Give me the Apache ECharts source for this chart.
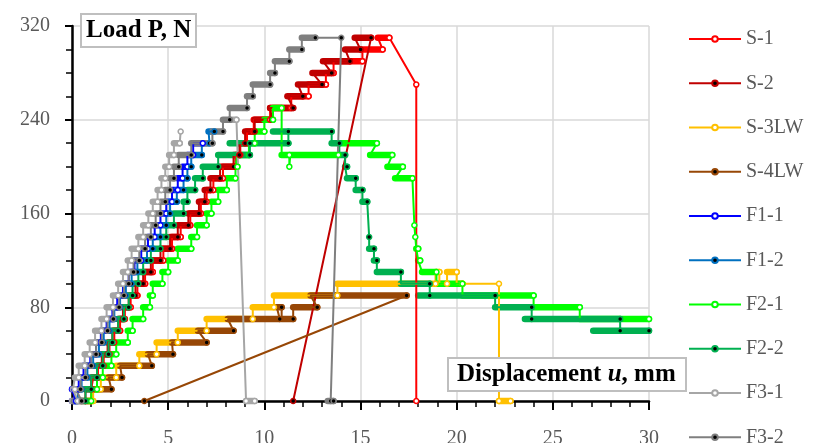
<!DOCTYPE html>
<html>
<head>
<meta charset="utf-8">
<script src="https://cdn.jsdelivr.net/npm/echarts@6/dist/echarts.min.js"></script>
<style>
  html, body { margin: 0; padding: 0; background: #fff; }
  #chart { width: 816px; height: 443px; }
</style>
</head>
<body>
<div id="chart"></div>
<script>
// axis ticks
const xTicks = [0, 5, 10, 15, 20, 25, 30];
const yTicks = [0, 80, 160, 240, 320];

// each specimen: [xStart, xEnd, load] = plateau, [x, load] = single point, null = gap
const S1 = [
  [0.7, 1.0, 0], [1.0, 1.1, 10], [1.1, 1.35, 20], [1.35, 1.65, 30], [1.65, 1.95, 40],
  [1.95, 2.2, 50], [2.2, 2.5, 60], [2.5, 2.75, 70], [2.75, 3.05, 80], [3.05, 3.4, 90],
  [3.4, 3.8, 100], [3.8, 4.2, 110], [4.2, 4.75, 120], [4.75, 5.2, 130], [5.2, 5.65, 140],
  [5.65, 6.15, 150], [6.15, 6.7, 160], [6.7, 7.0, 170], [7.0, 7.35, 180], [7.35, 7.85, 190],
  [7.85, 8.5, 200], [8.5, 8.75, 210], [8.75, 9.1, 220], [9.1, 9.45, 230], [9.45, 10.3, 240],
  [10.3, 11.4, 250], [11.4, 12.3, 260], [12.3, 13.2, 270], [13.2, 13.6, 280], [13.6, 15.1, 290],
  [15.1, 16.15, 300], [15.9, 16.5, 310], [17.9, 270], [17.9, 0]
];
const S2 = [
  [0.4, 0.7, 0], [0.7, 1.0, 10], [1.0, 1.3, 20], [1.3, 1.55, 30], [1.55, 1.85, 40],
  [1.85, 2.1, 50], [2.1, 2.4, 60], [2.4, 2.65, 70], [2.65, 2.95, 80], [2.95, 3.3, 90],
  [3.3, 3.7, 100], [3.7, 4.1, 110], [4.1, 4.6, 120], [4.6, 5.1, 130], [5.1, 5.5, 140],
  [5.5, 6.05, 150], [6.05, 6.6, 160], [6.6, 6.9, 170], [6.9, 7.2, 180], [7.2, 7.7, 190],
  [7.7, 8.4, 200], [8.4, 8.7, 210], [8.7, 9.0, 220], [9.0, 9.5, 230], [9.5, 10.4, 240],
  [10.3, 11.5, 250], [11.2, 12.0, 260], [11.75, 13.0, 270], [12.5, 13.5, 280], [13.05, 14.45, 290],
  [14.2, 15.0, 300], [14.7, 15.55, 310], [11.5, 0]
];
const S3LW = [
  [0.8, 1.1, 0], [1.1, 1.5, 10], [1.5, 2.3, 20], [2.3, 3.5, 30], [3.5, 4.4, 40],
  [4.4, 5.5, 50], [5.5, 7.0, 60], [7.0, 9.4, 70], [9.4, 10.5, 80], [10.5, 13.8, 90],
  [13.8, 18.9, 100], [18.9, 19.1, 110], [19.1, 19.5, 100], [19.5, 20.0, 110], [20.0, 20.3, 100],
  [22.2, 100], [22.2, 0], [22.2, 22.8, 0]
];
const S4LW = [
  [1.0, 2.05, 10], [1.9, 2.6, 20], [2.5, 4.15, 30], [3.95, 5.25, 40], [5.2, 7.0, 50],
  [6.55, 8.4, 60], [8.1, 10.8, 70], [10.65, 10.9, 80], [10.9, 11.5, 70], [11.5, 12.75, 80],
  [12.4, 17.4, 90], [3.76, 0]
];
const F1_1 = [
  [0.0, 0.2, 0], [0.0, 0.35, 10], [0.35, 0.6, 20], [0.6, 0.95, 30], [0.95, 1.25, 40],
  [1.25, 1.5, 50], [1.5, 1.8, 60], [1.8, 2.1, 70], [2.1, 2.35, 80], [2.35, 2.65, 90],
  [2.65, 2.95, 100], [2.95, 3.25, 110], [3.25, 3.6, 120], [3.6, 3.95, 130], [3.95, 4.3, 140],
  [4.3, 4.6, 150], [4.6, 4.9, 160], [4.9, 5.2, 170], [5.2, 5.5, 180], [5.5, 5.75, 190],
  [5.75, 6.0, 200], [6.0, 6.3, 210], [6.3, 6.8, 220]
];
const F1_2 = [
  [0.1, 0.3, 0], [0.3, 0.5, 10], [0.5, 0.8, 20], [0.8, 1.1, 30], [1.1, 1.4, 40],
  [1.4, 1.65, 50], [1.65, 1.95, 60], [1.95, 2.2, 70], [2.2, 2.5, 80], [2.5, 2.8, 90],
  [2.8, 3.1, 100], [3.1, 3.4, 110], [3.4, 3.9, 120], [3.9, 4.2, 130], [4.2, 4.6, 140],
  [4.6, 4.9, 150], [4.9, 5.1, 160], [5.1, 5.45, 170], [5.45, 5.8, 180], [5.8, 6.0, 190],
  [6.0, 6.2, 200], [6.2, 6.75, 210], [6.75, 7.15, 220], [7.1, 7.4, 230]
];
const F2_1 = [
  [0.8, 1.0, 0], [1.0, 1.3, 10], [1.3, 1.6, 20], [1.6, 2.05, 30], [2.05, 2.3, 40],
  [2.3, 2.9, 50], [2.9, 3.15, 60], [3.15, 3.7, 70], [3.7, 4.05, 80], [4.05, 4.2, 90],
  [4.2, 4.7, 100], [4.7, 5.0, 110], [5.0, 5.5, 120], [5.5, 6.2, 130], [6.2, 6.5, 140],
  [6.5, 7.0, 150], [7.0, 7.25, 160], [7.25, 7.6, 170], [7.6, 8.05, 180], [8.05, 8.5, 190],
  [8.5, 8.6, 200], [8.6, 9.2, 210], [9.2, 9.5, 220], [9.5, 10.0, 230], [10.0, 10.45, 240],
  [10.45, 10.9, 250], [10.9, 11.3, 210], [11.3, 200], [11.35, 13.85, 210], [13.85, 15.85, 220],
  [15.5, 16.65, 210], [16.4, 17.2, 200], [16.8, 17.7, 190], [17.8, 150], [17.85, 140],
  [17.9, 18.0, 130], [18.0, 18.1, 120], [18.2, 18.95, 110], [18.95, 20.3, 100], [20.3, 24.0, 90],
  [24.0, 26.4, 80], [26.4, 30.0, 70]
];
const F2_2 = [
  [0.5, 0.7, 0], [0.7, 1.0, 10], [1.0, 1.3, 20], [1.3, 1.6, 30], [1.6, 1.9, 40],
  [1.9, 2.1, 50], [2.1, 2.4, 60], [2.4, 2.7, 70], [2.7, 2.95, 80], [2.95, 3.15, 90],
  [3.15, 3.45, 100], [3.45, 3.7, 110], [3.7, 4.1, 120], [4.1, 4.6, 130], [4.6, 4.9, 140],
  [4.9, 5.3, 150], [5.3, 5.8, 160], [5.8, 6.0, 170], [6.0, 6.4, 180], [6.4, 6.8, 190],
  [6.8, 7.6, 200], [7.6, 9.25, 210], [9.25, 220], [8.2, 11.25, 220], [11.25, 230],
  [10.45, 13.5, 230], [13.5, 13.9, 220], [13.9, 14.2, 210], [14.2, 14.3, 200], [14.3, 14.75, 190],
  [14.75, 15.1, 180], [15.1, 15.35, 170], [15.45, 140], [15.45, 15.7, 130], [15.7, 15.85, 120],
  [15.85, 17.1, 110], [17.1, 18.6, 100], [18.6, 90], [18.0, 22.0, 90], [22.0, 23.9, 80],
  [23.9, 70], [23.55, 28.5, 70], [28.5, 60], [27.1, 30.0, 60]
];
const F3_1 = [
  [0.0, 0.3, 0], [0.05, 0.15, 10], [0.15, 0.35, 20], [0.35, 0.66, 30], [0.66, 0.92, 40],
  [0.92, 1.2, 50], [1.2, 1.53, 60], [1.53, 1.8, 70], [1.8, 2.13, 80], [2.13, 2.4, 90],
  [2.4, 2.65, 100], [2.65, 2.9, 110], [2.9, 3.1, 120], [3.1, 3.45, 130], [3.45, 3.7, 140],
  [3.7, 3.97, 150], [3.97, 4.2, 160], [4.2, 4.45, 170], [4.45, 4.65, 180], [4.65, 4.85, 190],
  [4.85, 5.05, 200], [5.05, 5.3, 210], [5.3, 5.6, 220], [5.65, 230], null,
  [8.2, 8.55, 240], [9.05, 0], [9.05, 9.5, 0]
];
const F3_2 = [
  [0.1, 0.5, 0], [0.2, 0.45, 10], [0.45, 0.7, 20], [0.7, 1.0, 30], [1.0, 1.25, 40],
  [1.25, 1.55, 50], [1.55, 1.85, 60], [1.85, 2.15, 70], [2.15, 2.45, 80], [2.45, 2.7, 90],
  [2.7, 2.95, 100], [2.95, 3.2, 110], [3.2, 3.5, 120], [3.5, 3.8, 130], [3.8, 4.1, 140],
  [4.1, 4.35, 150], [4.35, 4.6, 160], [4.6, 4.85, 170], [4.85, 5.1, 180], [5.1, 5.3, 190],
  [5.3, 5.55, 200], [5.55, 6.2, 210], [6.2, 7.3, 220], [7.3, 7.85, 230], [7.85, 8.2, 240],
  [8.2, 9.1, 250], [9.1, 9.4, 260], [9.4, 10.3, 270], [10.3, 10.55, 280], [10.55, 11.3, 290],
  [11.3, 11.95, 300], [11.95, 12.65, 310], [14.0, 310], [13.45, 0], [13.3, 13.6, 0]
];

const names = ['S-1', 'S-2', 'S-3LW', 'S-4LW', 'F1-1', 'F1-2', 'F2-1', 'F2-2', 'F3-1', 'F3-2'];
const colors = ['#FF0000', '#C00000', '#FFC000', '#974706', '#0000FF', '#0070C0', '#00FF00', '#00B050', '#A6A6A6', '#7F7F7F'];
const openMarker = [true, false, true, false, true, false, true, false, true, false];
const specimens = [S1, S2, S3LW, S4LW, F1_1, F1_2, F2_1, F2_2, F3_1, F3_2];

const FONT = 'Liberation Serif';

let series = [];
specimens.forEach((rows, i) => {
    let color = colors[i];
    // thick part: load plateaus
    series.push({
        type: 'custom',
        silent: true,
        encode: {x: [0, 1], y: 2},
        data: rows.filter(r => r && r.length === 3),
        renderItem: function (params, api) {
            let a = api.coord([api.value(0), api.value(2)]);
            let b = api.coord([api.value(1), api.value(2)]);
            return {
                type: 'line',
                shape: {x1: a[0], y1: a[1], x2: b[0], y2: b[1]},
                style: {stroke: color, lineWidth: 6.5, lineCap: 'round'}
            };
        }
    });
    // thin path through all points, marker at the end of each plateau
    let pts = [];
    rows.forEach(r => {
        if (r === null) {
            pts.push({value: ['-', '-'], symbol: 'none'});
        } else if (r.length === 3) {
            pts.push({value: [r[0], r[2]], symbol: 'none'});
            pts.push([r[1], r[2]]);
        } else {
            pts.push([r[0], r[1]]);
        }
    });
    series.push({
        name: names[i],
        type: 'line',
        data: pts,
        symbol: 'circle',
        symbolSize: 5,
        showAllSymbol: true,
        connectNulls: false,
        lineStyle: {color: color, width: 2},
        itemStyle: {color: openMarker[i] ? '#ffffff' : '#000000', borderColor: color, borderWidth: 1.5}
    });
});

const chart = echarts.init(document.getElementById('chart'));
chart.setOption({
    animation: false,
    backgroundColor: '#ffffff',
    grid: {left: 72, right: 167, top: 26, bottom: 42, outerBoundsMode: 'none', containLabel: false},
    title: [
        {
            text: 'Load P, N',
            left: 81, top: 14,
            padding: [4, 5],
            backgroundColor: '#ffffff',
            borderColor: '#BFBFBF',
            borderWidth: 2,
            textStyle: {fontFamily: FONT, fontWeight: 'bold', fontSize: 25, color: '#000'}
        },
        {
            text: 'Displacement {u|u}, mm',
            left: 448, top: 358,
            padding: [4, 11, 4, 9],
            backgroundColor: '#ffffff',
            borderColor: '#BFBFBF',
            borderWidth: 2,
            textStyle: {
                fontFamily: FONT, fontWeight: 'bold', fontSize: 25, color: '#000',
                rich: {u: {fontFamily: FONT, fontWeight: 'bold', fontStyle: 'italic', fontSize: 25, color: '#000'}}
            }
        }
    ],
    legend: {
        data: names,
        orient: 'vertical',
        left: 688,
        top: 29,
        height: 600,
        padding: 0,
        itemWidth: 52,
        itemHeight: 7,
        itemGap: 24.25,
        selectedMode: false,
        textStyle: {fontFamily: FONT, fontSize: 20, color: '#595959'}
    },
    xAxis: {
        type: 'value',
        min: xTicks[0], max: xTicks[xTicks.length - 1], interval: xTicks[1] - xTicks[0],
        axisLine: {show: true, onZero: false, lineStyle: {color: '#000', width: 2.5}},
        axisTick: {show: true, length: 9, lineStyle: {color: '#000', width: 2}},
        minorTick: {show: true, splitNumber: 5, length: 6, lineStyle: {color: '#000', width: 1.5}},
        splitLine: {show: true, lineStyle: {color: '#D9D9D9', width: 1.5}},
        axisLabel: {color: '#595959', fontFamily: FONT, fontSize: 20, margin: 28}
    },
    yAxis: {
        type: 'value',
        min: yTicks[0], max: yTicks[yTicks.length - 1], interval: yTicks[1] - yTicks[0],
        axisLine: {show: true, onZero: false, lineStyle: {color: '#000', width: 2.5}},
        axisTick: {show: true, length: 7, lineStyle: {color: '#000', width: 2}},
        minorTick: {show: true, splitNumber: 4, length: 6, lineStyle: {color: '#000', width: 1.5}},
        splitLine: {show: true, lineStyle: {color: '#D9D9D9', width: 1.5}},
        axisLabel: {color: '#595959', fontFamily: FONT, fontSize: 20, margin: 22}
    },
    series: series
});
</script>
</body>
</html>
